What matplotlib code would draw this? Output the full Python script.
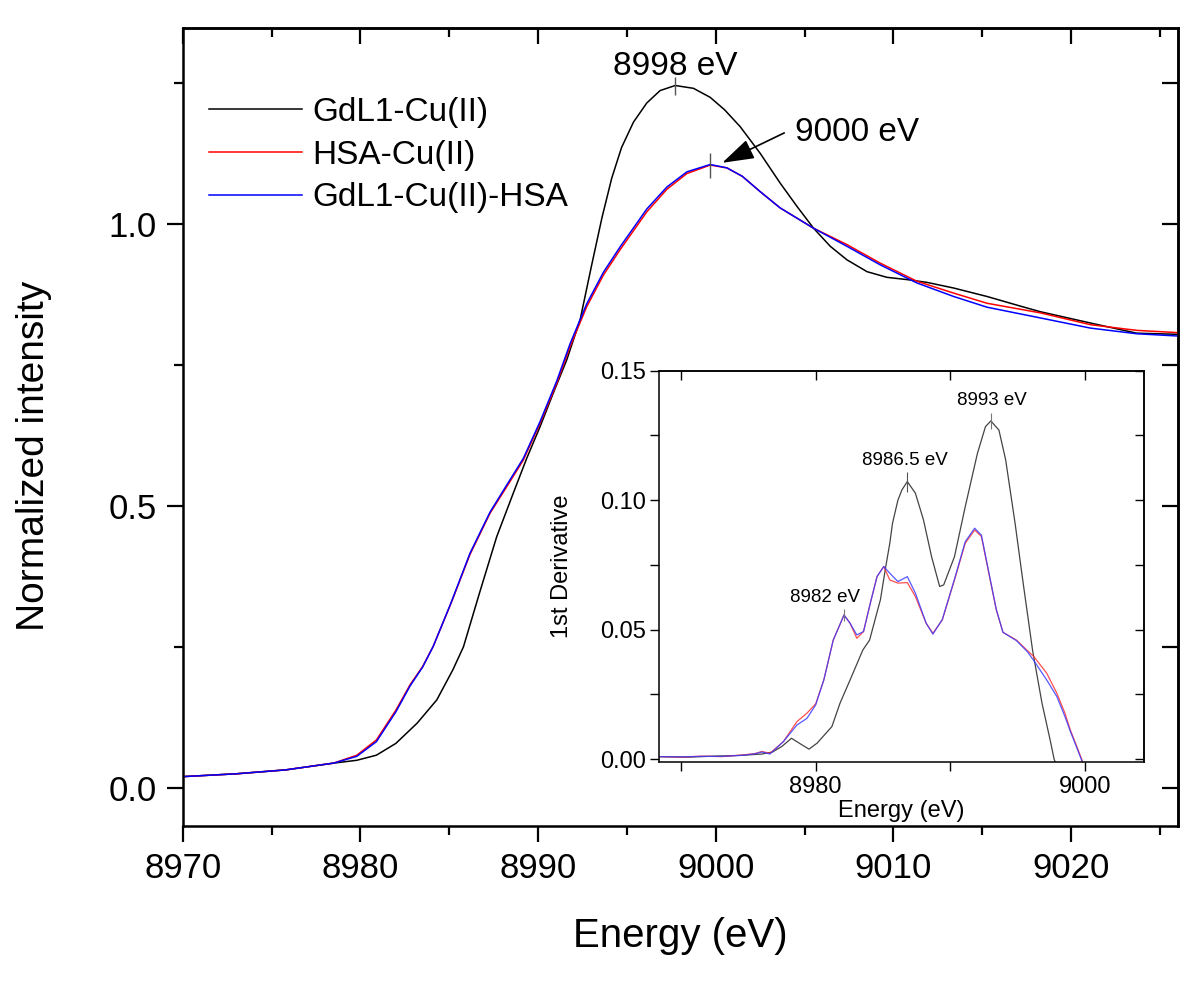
import matplotlib
matplotlib.use('Agg')
import matplotlib.pyplot as plt
from matplotlib.ticker import MultipleLocator, FormatStrFormatter

plt.rcParams['font.family'] = ['Liberation Sans', 'DejaVu Sans']

# main XANES spectra (energy in eV, normalized intensity)
e_black = [8970.0, 8973.0, 8975.8, 8978.5, 8979.8, 8980.9, 8982.0, 8983.2, 8984.3, 8985.2,
           8985.8, 8986.7, 8987.67, 8988.6, 8989.36, 8990.11, 8990.86, 8991.62, 8992.37, 8993.0,
           8993.6, 8994.15, 8994.7, 8995.37, 8996.12, 8996.87, 8997.72, 8998.75, 8999.69, 9000.5,
           9001.38, 9002.5, 9003.63, 9004.57, 9005.51, 9006.45, 9007.39, 9008.52, 9009.64, 9010.77,
           9011.9, 9013.4, 9015.28, 9017.15, 9018.28, 9021.1, 9023.7, 9026.0]
i_black = [0.021, 0.026, 0.033, 0.045, 0.050, 0.059, 0.080, 0.116, 0.157, 0.210,
           0.251, 0.346, 0.446, 0.523, 0.585, 0.641, 0.701, 0.760, 0.831, 0.925,
           1.012, 1.082, 1.136, 1.181, 1.215, 1.237, 1.246, 1.241, 1.225, 1.203,
           1.173, 1.126, 1.073, 1.032, 0.993, 0.961, 0.937, 0.916, 0.906, 0.902,
           0.897, 0.887, 0.872, 0.855, 0.845, 0.825, 0.807, 0.805]

e_hsa = [8970.0, 8973.0, 8975.8, 8978.5, 8979.8, 8980.9, 8982.0, 8982.8, 8983.5, 8984.1,
         8985.1, 8986.17, 8987.3, 8988.24, 8989.17, 8990.11, 8991.05, 8991.8, 8992.74, 8993.68,
         8994.62, 8995.18, 8996.12, 8997.25, 8998.38, 8999.69, 9000.63, 9001.5, 9002.5, 9003.63,
         9005.51, 9007.39, 9009.27, 9011.33, 9013.4, 9015.28, 9018.28, 9021.1, 9023.7, 9026.0]
i_red = [0.021, 0.026, 0.033, 0.045, 0.059, 0.086, 0.139, 0.184, 0.216, 0.252,
         0.328, 0.415, 0.488, 0.535, 0.582, 0.647, 0.718, 0.783, 0.854, 0.910,
         0.955, 0.980, 1.022, 1.062, 1.090, 1.105, 1.100, 1.085, 1.058, 1.029,
         0.993, 0.964, 0.931, 0.899, 0.878, 0.860, 0.843, 0.822, 0.812, 0.808]
i_blue = [0.021, 0.026, 0.033, 0.045, 0.057, 0.083, 0.136, 0.182, 0.215, 0.252,
          0.329, 0.417, 0.490, 0.538, 0.585, 0.650, 0.722, 0.788, 0.859, 0.915,
          0.960, 0.985, 1.027, 1.066, 1.093, 1.106, 1.100, 1.085, 1.058, 1.029,
          0.993, 0.961, 0.928, 0.896, 0.872, 0.853, 0.834, 0.816, 0.806, 0.802]

# first derivative (inset)
d_e_black = [8968.4, 8970.5, 8972.5, 8974.5, 8976.0, 8976.8, 8977.5, 8978.2, 8978.9, 8979.5,
             8980.1, 8981.2, 8981.8, 8982.55, 8983.5, 8984.0, 8984.6, 8984.8, 8985.2, 8985.5,
             8985.7, 8986.1, 8986.4, 8986.8, 8987.4, 8988.0, 8988.6, 8989.2, 8989.5, 8990.3,
             8991.1, 8992.0, 8992.6, 8993.0, 8993.6, 8994.1, 8994.8, 8995.4, 8996.1, 8996.8,
             8997.4, 8997.7, 8998.0]
d_black = [0.0010, 0.0008, 0.0012, 0.0015, 0.0020, 0.0028, 0.0050, 0.0081, 0.0058, 0.0039,
           0.0062, 0.0126, 0.0216, 0.0306, 0.0422, 0.0460, 0.0577, 0.0615, 0.0744, 0.0834,
           0.0911, 0.1000, 0.1040, 0.1072, 0.1027, 0.0924, 0.0782, 0.0667, 0.0673, 0.0782,
           0.0975, 0.1180, 0.1284, 0.1306, 0.1271, 0.1156, 0.0911, 0.0680, 0.0420, 0.0216,
           0.0075, 0.0000, -0.0040]

d_e_hsa = [8968.4, 8970.0, 8971.5, 8973.0, 8974.5, 8975.5, 8976.0, 8976.6, 8977.6, 8978.6,
           8979.35, 8980.0, 8980.6, 8981.3, 8982.1, 8982.55, 8983.05, 8983.55, 8984.05, 8984.55,
           8985.05, 8985.5, 8986.1, 8986.8, 8987.4, 8988.2, 8988.7, 8989.4, 8990.3, 8991.1,
           8991.8, 8992.3, 8992.8, 8993.4, 8993.9, 8994.9, 8995.7, 8996.2, 8997.15, 8997.9,
           8998.5, 8998.9, 8999.3, 8999.75, 9000.0]
d_red = [0.0010, 0.0008, 0.0012, 0.0010, 0.0016, 0.0022, 0.0030, 0.0023, 0.0068, 0.0145,
         0.0178, 0.0214, 0.0306, 0.0460, 0.0557, 0.0525, 0.0467, 0.0493, 0.0602, 0.0705,
         0.0744, 0.0692, 0.0680, 0.0682, 0.0628, 0.0525, 0.0486, 0.0538, 0.0692, 0.0834,
         0.0885, 0.0860, 0.0731, 0.0577, 0.0490, 0.0460, 0.0420, 0.0396, 0.0332, 0.0255,
         0.0178, 0.0113, 0.0060, 0.0000, -0.0040]
d_blue = [0.0010, 0.0009, 0.0011, 0.0011, 0.0015, 0.0021, 0.0028, 0.0020, 0.0068, 0.0132,
          0.0158, 0.0210, 0.0306, 0.0460, 0.0557, 0.0525, 0.0480, 0.0493, 0.0602, 0.0705,
          0.0744, 0.0718, 0.0686, 0.0705, 0.0641, 0.0525, 0.0483, 0.0540, 0.0695, 0.0840,
          0.0892, 0.0865, 0.0735, 0.0580, 0.0490, 0.0458, 0.0416, 0.0380, 0.0306, 0.0242,
          0.0165, 0.0108, 0.0055, -0.0005, -0.0045]

labels = ['GdL1-Cu(II)', 'HSA-Cu(II)', 'GdL1-Cu(II)-HSA']

fig = plt.figure(figsize=(12, 9.81), dpi=100)
ax = fig.add_axes([0.1523, 0.158, 0.829, 0.8135])

ax.plot(e_black, i_black, color='black', lw=1.1, label=labels[0])
ax.plot(e_hsa, i_red, color='red', lw=1.1, label=labels[1])
ax.plot(e_hsa, i_blue, color='blue', lw=1.1, label=labels[2])

ax.set_xlim(8970, 9026.0)
ax.set_ylim(-0.0665, 1.348)
ax.xaxis.set_major_locator(MultipleLocator(10))
ax.xaxis.set_minor_locator(MultipleLocator(5))
ax.yaxis.set_major_locator(MultipleLocator(0.5))
ax.yaxis.set_minor_locator(MultipleLocator(0.25))
ax.yaxis.set_major_formatter(FormatStrFormatter('%.1f'))
ax.tick_params(which='major', direction='out', length=11.5, width=1.6, labelsize=25, pad=7)
ax.tick_params(which='minor', direction='out', length=6.5, width=1.6)
for s in ax.spines.values():
    s.set_linewidth(1.8)

# inward ticks on top and right
top = ax.secondary_xaxis('top')
top.xaxis.set_major_locator(MultipleLocator(10))
top.xaxis.set_minor_locator(MultipleLocator(5))
top.tick_params(which='major', direction='in', length=11.5, width=1.6, labeltop=False)
top.tick_params(which='minor', direction='in', length=6.5, width=1.6)
right = ax.secondary_yaxis('right')
right.yaxis.set_major_locator(MultipleLocator(0.5))
right.yaxis.set_minor_locator(MultipleLocator(0.25))
right.tick_params(which='major', direction='in', length=11.5, width=1.6, labelright=False)
right.tick_params(which='minor', direction='in', length=11.5, width=1.6)
top.spines['top'].set_linewidth(1.8)
right.spines['right'].set_linewidth(1.8)

ax.set_xlabel('Energy (eV)', fontsize=29, labelpad=23)
ax.set_ylabel('Normalized intensity', fontsize=28)
ax.yaxis.set_label_coords(-0.1314, 0.4637)

ax.legend(loc='upper left', bbox_to_anchor=(0.0265, 0.9135), frameon=False, fontsize=24,
          handlelength=2.8, handletextpad=0.3, labelspacing=0.35, borderpad=0, borderaxespad=0)

# peak marks and labels
ax.plot([8997.72], [1.246], marker='|', ms=13, mew=1.0, color='#555555')
ax.plot([8999.69], [1.105], marker='|', ms=18, mew=1.0, color='#555555')
ax.text(8997.7, 1.265, '8998 eV', fontsize=24, ha='center', va='baseline')
ax.text(9007.97, 1.148, '9000 eV', fontsize=24, ha='center', va='baseline')
ax.annotate('', xy=(9000.37, 1.109), xytext=(9003.86, 1.162),
            arrowprops=dict(arrowstyle='-|>,head_length=1.1,head_width=0.35', color='black',
                            lw=1.2, mutation_scale=18, shrinkA=0, shrinkB=0))

# inset: first derivative
axin = fig.add_axes([0.549, 0.2229, 0.4041, 0.3992])
axin.set_facecolor('white')
axin.plot(d_e_black, d_black, color='#444444', lw=0.9)
axin.plot(d_e_hsa, d_red, color='#ff3030', lw=0.9, alpha=0.85)
axin.plot(d_e_hsa, d_blue, color='#3a3aff', lw=0.9, alpha=0.85)
axin.set_xlim(8968.35, 9004.35)
axin.set_ylim(-0.0012, 0.15)
axin.xaxis.set_major_locator(MultipleLocator(20))
axin.xaxis.set_minor_locator(MultipleLocator(10))
axin.yaxis.set_major_locator(MultipleLocator(0.05))
axin.yaxis.set_minor_locator(MultipleLocator(0.025))
axin.yaxis.set_major_formatter(FormatStrFormatter('%.2f'))
axin.tick_params(which='major', direction='out', length=6.5, width=1.0, labelsize=17, pad=3)
axin.tick_params(which='minor', direction='out', length=6.5, width=1.0)
for s in axin.spines.values():
    s.set_linewidth(1.1)
in_top = axin.secondary_xaxis('top')
in_top.xaxis.set_major_locator(MultipleLocator(20))
in_top.xaxis.set_minor_locator(MultipleLocator(10))
in_top.tick_params(which='both', direction='in', length=6.5, width=1.0, labeltop=False)
in_right = axin.secondary_yaxis('right')
in_right.yaxis.set_major_locator(MultipleLocator(0.05))
in_right.yaxis.set_minor_locator(MultipleLocator(0.025))
in_right.tick_params(which='both', direction='in', length=6.5, width=1.0, labelright=False)
in_top.spines['top'].set_linewidth(1.1)
in_right.spines['right'].set_linewidth(1.1)

axin.set_xlabel('Energy (eV)', fontsize=17, labelpad=2)
axin.set_ylabel('1st Derivative', fontsize=17)
axin.yaxis.set_label_coords(-0.177, 0.5)

axin.plot([8993.0], [0.1306], marker='|', ms=12, mew=0.8, color='#777777')
axin.plot([8986.8], [0.1072], marker='|', ms=14, mew=0.8, color='#555555')
axin.plot([8982.1], [0.0557], marker='|', ms=9, mew=0.8, color='#777777')
axin.text(8993.06, 0.1368, '8993 eV', fontsize=13.5, ha='center', va='baseline')
axin.text(8986.64, 0.1136, '8986.5 eV', fontsize=13.5, ha='center', va='baseline')
axin.text(8980.7, 0.0607, '8982 eV', fontsize=13.5, ha='center', va='baseline')

fig.savefig('out.png', dpi=100)
